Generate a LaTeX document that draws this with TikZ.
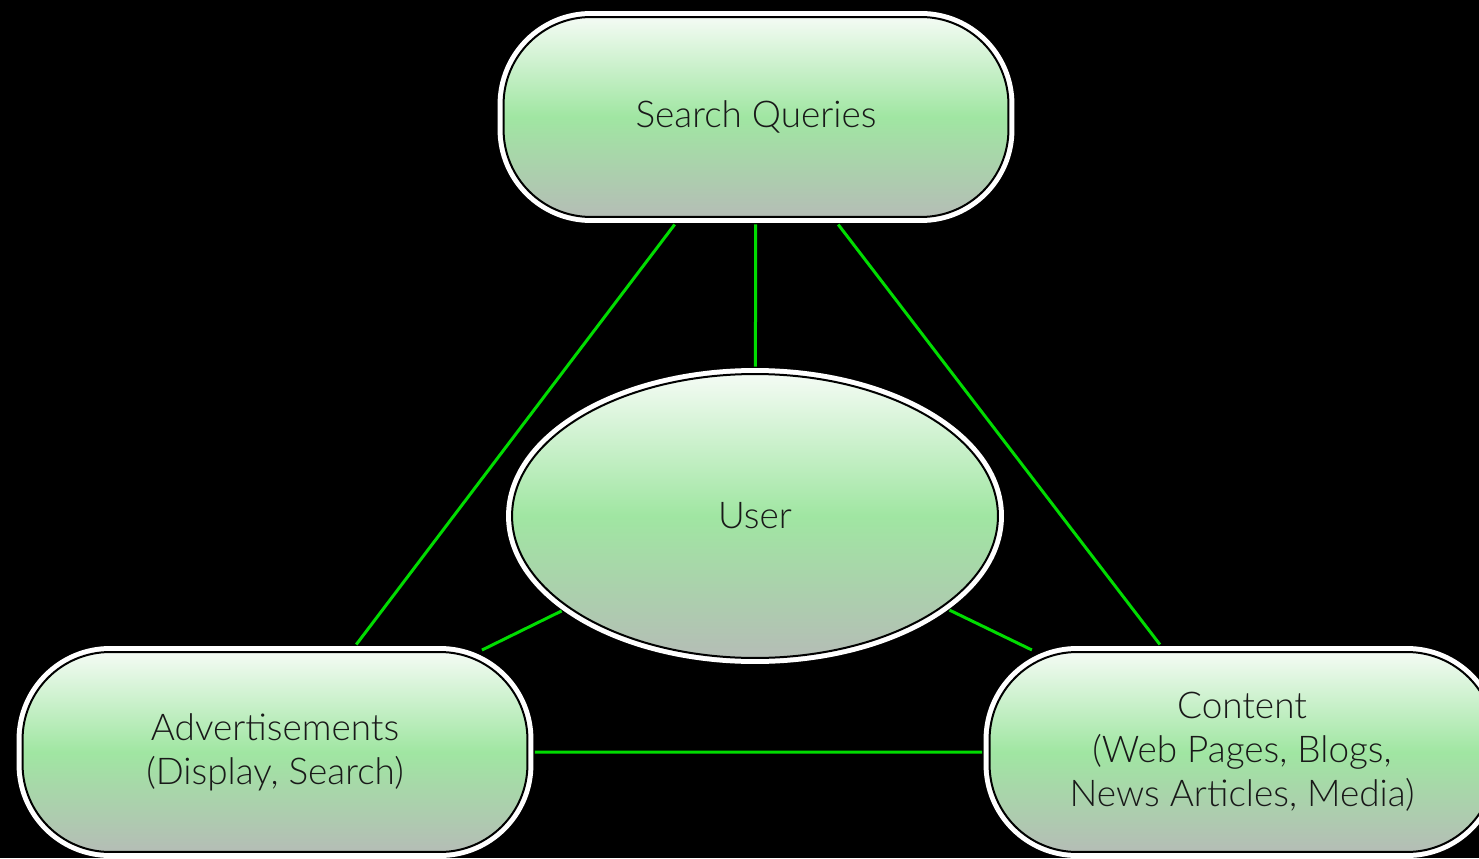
\documentclass[tikz,border=0pt]{standalone}
\usepackage{fontspec}
\setmainfont{Lato Light}
\usetikzlibrary{shapes.geometric}
\definecolor{filltop}{HTML}{F4FBF4}
\definecolor{fillmid}{HTML}{A0E6A2}
\definecolor{fillbot}{HTML}{B5BDB6}
\definecolor{linkgreen}{HTML}{00DC00}
\tikzset{
  box/.style={draw=black, line width=0.04cm, outer sep=0.15cm,
    top color=filltop, bottom color=fillbot, middle color=fillmid,
    preaction={draw=white, line width=0.24cm},
    align=center, text=black!90, font=\fontsize{21}{25}\selectfont},
  pill/.style={box, rectangle, rounded corners=1.75cm,
    minimum width=10.1cm, minimum height=4cm},
  oval/.style={box, ellipse, minimum width=9.72cm, minimum height=5.68cm},
  link/.style={draw=linkgreen, line width=0.06cm}
}
\begin{document}
\begin{tikzpicture}[x=0.02cm, y=-0.02cm]
  \fill[black] (0,0) rectangle (1479,858);
  \useasboundingbox (0,0) rectangle (1479,858);
  \node[pill] (queries) at (756,117) {Search Queries};
  \node[oval] (user) at (755,516) {User};
  \node[pill] (ads) at (275,752) {Advertisements\\(Display, Search)};
  \node[pill] (content) at (1242,752) {Content\\(Web Pages, Blogs,\\News Articles, Media)};
  % edges of the triangle, and the spokes to the user
  \draw[link] (queries)--(user) (queries)--(ads) (queries)--(content)
              (ads)--(content);
  \draw[link, shorten >=-0.25cm] (user)--(ads);
  \draw[link, shorten >=-0.25cm] (user)--(content);
\end{tikzpicture}
\end{document}
